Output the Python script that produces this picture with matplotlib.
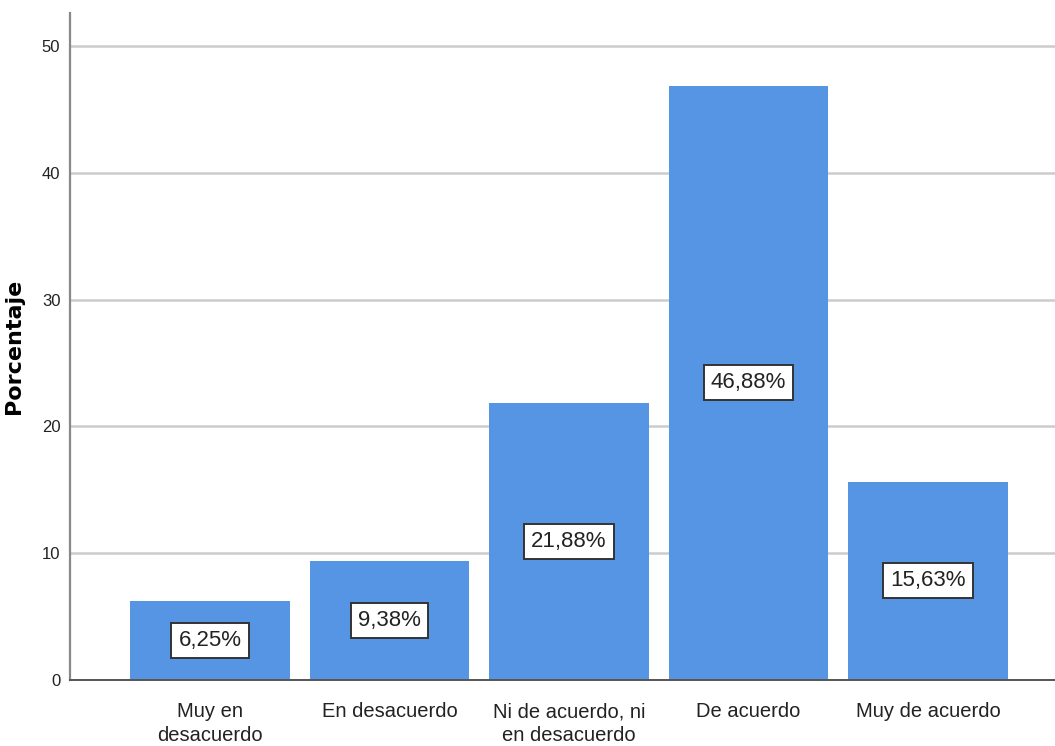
import matplotlib
matplotlib.use("Agg")
import matplotlib.pyplot as plt
from matplotlib import font_manager

# Respuestas (porcentaje)
categorias = ["Muy en\ndesacuerdo", "En desacuerdo", "Ni de acuerdo, ni\nen desacuerdo",
              "De acuerdo", "Muy de acuerdo"]
porcentajes = [6.25, 9.38, 21.88, 46.88, 15.63]
y_ticks = [0, 10, 20, 30, 40, 50]

installed = {f.name for f in font_manager.fontManager.ttflist}
narrow = "Liberation Sans Narrow" if "Liberation Sans Narrow" in installed else "Liberation Sans"
plt.rcParams["font.family"] = [narrow, "DejaVu Sans"]

BAR = "#5595e4"

fig = plt.figure(figsize=(10.55, 7.46), dpi=100)
ax = fig.add_axes([0.0664, 0.0885, 0.9336, 0.8941])

x = list(range(len(categorias)))
ax.bar(x, porcentajes, width=0.89, color=BAR, zorder=2)

for xi, v in zip(x, porcentajes):
    ax.text(xi, v / 2, f"{v:.2f}%".replace(".", ","), ha="center", va="center",
            fontsize=16, color="#222222", zorder=3,
            bbox=dict(boxstyle="square,pad=0.32", fc="white", ec="#333333", lw=1.4))

ax.set_xlim(-0.78, 4.707)
ax.set_ylim(0, 52.6)
ax.set_yticks(y_ticks)
ax.set_yticklabels([str(t) for t in y_ticks], fontsize=12, color="#222222")
ax.set_xticks(x)
ax.set_xticklabels(categorias, fontsize=14.5, color="#222222", linespacing=1.35)
ax.tick_params(axis="both", length=0)
ax.tick_params(axis="y", pad=7)
ax.tick_params(axis="x", pad=16)

ax.yaxis.grid(True, color="#cccccc", lw=1.8, zorder=1)
ax.set_axisbelow(True)

for s in ("top", "right"):
    ax.spines[s].set_visible(False)
ax.spines["left"].set_color("#888888")
ax.spines["left"].set_linewidth(1.6)
ax.spines["bottom"].set_color("#555555")
ax.spines["bottom"].set_linewidth(1.4)

ax.set_ylabel("Porcentaje", fontsize=16, fontweight="bold", family="DejaVu Sans")
ax.yaxis.set_label_coords(-0.047, 0.5)

fig.savefig("out.png", dpi=100)
